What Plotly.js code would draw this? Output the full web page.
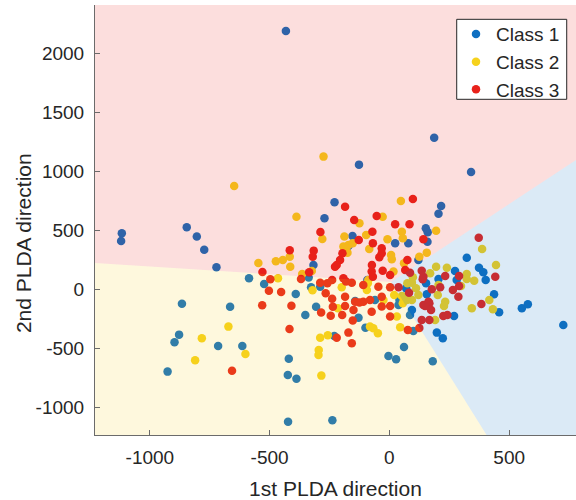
<!DOCTYPE html>
<html>
<head>
<meta charset="utf-8">
<script src="https://cdn.plot.ly/plotly-3.0.1.min.js"></script>
<style>html,body{margin:0;padding:0;background:#fff;}#chart{width:576px;height:500px;}</style>
</head>
<body>
<div id="chart"></div>
<script>
// ---- data ----
const seriesNames = ["Class 1", "Class 2", "Class 3"];
const seriesColors = ["#0F6FC1", "#F6D21D", "#E8221B"];

const class1X = [-432,-229,-271,187,-127,341,205,216,-1117,-1120,-846,-804,-773,-722,-317,-586,-523,-337,-327,-391,-866,-665,-306,-351,-878,-897,-715,-614,-926,-420,-424,-388,-230,-423,-238,152,160,-154,24,79,159,323,121,205,274,374,392,402,-92,70,153,156,437,458,553,578,726,270,100,86,94,38,198,223,61,-4,28,181,-100,-60,-129,-171,281,42,-289,-143];
const class1Y = [2193,738,603,1287,1058,996,642,707,475,410,526,447,336,187,206,93,45,99,17,-40,-122,-148,-148,-218,-385,-450,-481,-481,-699,-589,-727,-759,-396,-1124,-1112,518,484,452,390,390,404,268,249,87,155,183,144,79,79,8,51,-42,-42,-195,-161,-127,-303,-227,-354,-218,-176,-133,-368,-416,-490,-566,-594,-611,-326,-91,-241,368,79,-91,22,-99];

const class2X = [-275,-648,-388,48,-28,-280,-416,-414,-547,-474,-445,-465,-364,-324,-321,-215,-672,-783,-601,-811,-289,-257,-295,-296,-284,-125,52,195,-97,-188,-8,56,387,-192,-171,-84,10,7,61,156,125,17,98,170,195,240,323,323,354,445,-199,75,94,299,111,121,202,417,344,432,228,233,191,45,56,31,-81,-67,-48,-94,-25,20,52,-153,-175,-88,-90,205,94,58,73];
const class2Y = [1126,877,616,750,616,427,277,192,223,238,249,93,130,155,-9,-162,-317,-416,-549,-603,-411,-391,-515,-558,-733,560,489,497,461,447,424,433,342,362,376,342,255,291,221,311,277,150,102,136,192,183,130,87,73,206,17,51,56,28,8,-48,-48,-91,-161,-170,-142,-105,-261,-323,-119,-232,-317,-331,-374,-6,-91,-48,-57,390,311,79,51,36,-91,-63,-91];

const class3X = [-185,98,-147,-53,-288,-416,-316,-320,-530,-497,-503,-452,-369,-335,-289,-227,-259,-239,-266,-239,-531,-409,-285,-245,-417,-220,-657,24,84,-71,-128,142,-69,373,-196,-32,-32,-42,75,-206,-220,-28,-74,3,66,86,135,142,233,291,442,-192,-181,-157,-109,-46,3,38,139,177,212,265,288,142,167,384,225,242,167,135,125,77,3,-157,-171,-74,-32,-81,-109,-143,-150,-153,-197,-185,-236,-32,3,-125,-73,-69,82,163,149,174,291,-185];
const class3Y = [701,767,588,622,486,331,328,277,147,85,-12,-23,87,144,56,192,51,79,-34,-80,-136,-139,-198,-224,-337,-411,-691,552,552,489,418,424,390,438,305,348,305,272,249,249,206,158,150,121,164,141,158,107,113,113,107,93,65,56,37,22,17,17,85,0,17,-6,-63,-133,-119,-125,-227,-218,-261,-261,-329,-345,-232,-459,-368,-190,-147,-91,-105,-105,-176,-266,-218,-142,-148,-63,-142,-113,206,107,-29,-105,-142,-176,28,-63];

// decision regions (data units): class 3 top, class 2 lower-left, class 1 right
const region3X = [-1300, 7, 850, 850, -1300];
const region3Y = [232, 62, 1193, 2500, 2500];
const region2X = [-1300, 7, 425, -1300];
const region2Y = [232, 62, -1300, -1300];
const region1X = [7, 850, 850, 425];
const region1Y = [62, 1193, -1300, -1300];

const xTicks = [-1000, -500, 0, 500];
const yTicks = [-1000, -500, 0, 500, 1000, 1500, 2000];
const xRange = [-1229, 779];
const yRange = [-1237, 2413];

// ---- traces ----
const FONT = "Liberation Sans, Arial, Helvetica, sans-serif";
const TXT = "#262626";
const pts = [[class1X, class1Y], [class2X, class2Y], [class3X, class3Y]];
const traces = pts.map((p, i) => ({
  type: "scatter", mode: "markers", x: p[0], y: p[1], name: seriesNames[i],
  marker: {color: seriesColors[i], size: 8.5, line: {width: 0}},
  hoverinfo: "x+y+name"
}));

function rgba(hex, a) {
  const r = parseInt(hex.slice(1,3),16), g = parseInt(hex.slice(3,5),16), b = parseInt(hex.slice(5,7),16);
  return `rgba(${r},${g},${b},${a})`;
}
const regions = [[region1X, region1Y], [region2X, region2Y], [region3X, region3Y]];
regions.forEach((r, i) => {
  traces.push({
    type: "scatter", mode: "lines", x: r[0], y: r[1], fill: "toself",
    fillcolor: rgba(seriesColors[i], 0.15), line: {width: 0, color: "rgba(0,0,0,0)"},
    showlegend: false, hoverinfo: "skip"
  });
});

const axisCommon = {
  showgrid: false, zeroline: false, showline: true, linecolor: "#6b6b6b", linewidth: 1,
  ticks: "inside", ticklen: 5, tickcolor: "#6b6b6b", tickwidth: 1,
  tickfont: {family: FONT, size: 19, color: TXT}, mirror: false
};

const layout = {
  width: 576, height: 500,
  margin: {l: 95, r: 0, t: 5, b: 65},
  paper_bgcolor: "#ffffff", plot_bgcolor: "#ffffff",
  font: {family: FONT, size: 19, color: TXT},
  xaxis: Object.assign({}, axisCommon, {
    range: xRange, tickvals: xTicks, ticktext: xTicks.map(String), ticklabelstandoff: 5,
    title: {text: "1st PLDA direction", font: {family: FONT, size: 21, color: TXT}, standoff: 15}
  }),
  yaxis: Object.assign({}, axisCommon, {
    range: yRange, tickvals: yTicks, ticktext: yTicks.map(String), ticklabelstandoff: 6
  }),
  annotations: [{
    text: "2nd PLDA direction", xref: "paper", yref: "paper", x: -0.149, y: 0.447,
    xanchor: "center", yanchor: "middle", textangle: -90, showarrow: false,
    font: {family: FONT, size: 21, color: TXT}
  }],
  shapes: [{
    type: "rect", xref: "paper", yref: "paper", x0: 0.752, x1: 0.9807, y0: 0.7807, y1: 0.9667,
    line: {color: TXT, width: 1}, fillcolor: "#ffffff", layer: "above"
  }],
  legend: {
    x: 0.7505, y: 0.9765, xanchor: "left", yanchor: "top",
    bgcolor: "rgba(0,0,0,0)", borderwidth: 0, tracegroupgap: 0,
    font: {family: FONT, size: 19, color: TXT}
  },
  showlegend: true
};

Plotly.newPlot("chart", traces, layout, {displayModeBar: false, staticPlot: true});
</script>
</body>
</html>
